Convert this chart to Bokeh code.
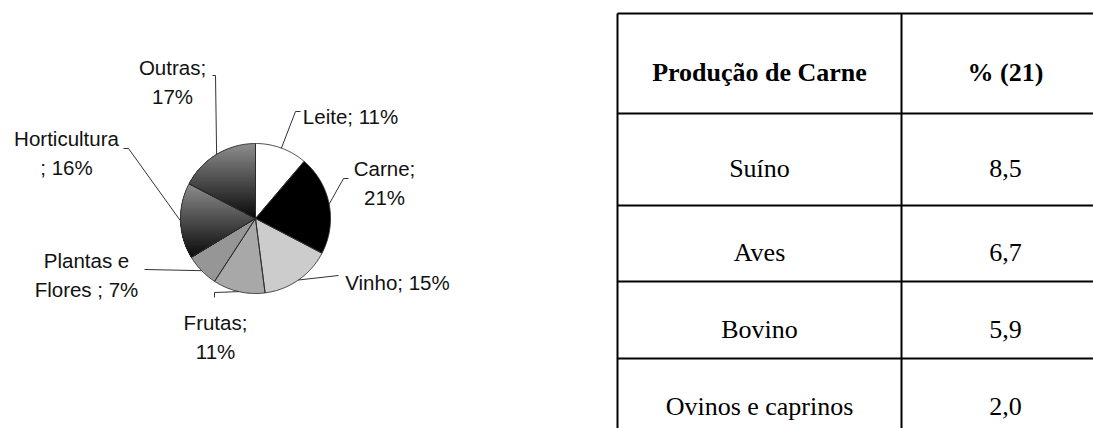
import numpy as np
from bokeh.plotting import figure
from bokeh.models import Range1d
from bokeh.core.properties import value
from bokeh.embed import file_html
from bokeh.resources import INLINE

# ---------------- data ----------------
sectors = ["Leite", "Carne", "Vinho", "Frutas", "Plantas e Flores", "Horticultura", "Outras"]
shares = [11, 21, 15, 11, 7, 16, 17]
# label text as printed on the chart (line breaks as in the original)
label_lines = [
    [f"Leite; {shares[0]}%"],
    ["Carne;", f"{shares[1]}%"],
    [f"Vinho; {shares[2]}%"],
    ["Frutas;", f"{shares[3]}%"],
    ["Plantas e", f"Flores ; {shares[4]}%"],
    ["Horticultura", f"; {shares[5]}%"],
    ["Outras;", f"{shares[6]}%"],
]
table_header = ["Produção de Carne", "% (21)"]
meat_types = ["Suíno", "Aves", "Bovino", "Ovinos e caprinos"]
meat_shares = ["8,5", "6,7", "5,9", "2,0"]

# ---------------- styles / layout ----------------
fills = ["#ffffff", "#000000", "#cccccc", "#a8a8a8", "#969696", None, None]  # None = gradient
grad_top, grad_bottom = np.array([0x8e, 0x8e, 0x8e]), np.array([0x0a, 0x0a, 0x0a])
cx, cy, R = 255.0, 218.0, 75.0
label_pos = [(350, 116), (384, 168), (397, 282), (215, 322), (86, 260), (66, 138), (172, 67)]
line_h = 28.5
leader_start = [
    [(300, 111), (295, 111)],
    [(348, 178), (343, 178)],
    [(338, 275)],
    [(214, 297), (214, 292)],
    [(144, 269)],
    [(123, 148), (128, 148)],
    [(212, 75), (215, 75)],
]
col_x = [617, 901, 1109]
row_y = [13, 113, 205, 281, 358, 436]

p = figure(width=1093, height=428, x_range=Range1d(0, 1093), y_range=Range1d(428, 0),
           output_backend="svg", toolbar_location=None, min_border=0,
           x_axis_type=None, y_axis_type=None)
p.grid.visible = False
p.outline_line_color = None
p.background_fill_color = "white"
p.border_fill_color = "white"

total = float(sum(shares))
cum = np.concatenate([[0.0], np.cumsum(shares)]) / total * 2 * np.pi


def pt(theta, r=R):
    return cx + r * np.sin(theta), cy - r * np.cos(theta)


def wedge_poly(a0, a1):
    n = max(3, int(np.degrees(a1 - a0) * 1.5))
    th = np.linspace(a0, a1, n)
    xs = [cx] + list(cx + R * np.sin(th))
    ys = [cy] + list(cy - R * np.cos(th))
    return list(zip(xs, ys))


def clip_half(pts, c, s):
    out = []
    n = len(pts)
    for i in range(n):
        P = pts[i]
        Q = pts[(i + 1) % n]
        pin = s * (P[1] - c) >= 0
        qin = s * (Q[1] - c) >= 0
        if pin:
            out.append(P)
        if pin != qin:
            t = (c - P[1]) / (Q[1] - P[1])
            out.append((P[0] + t * (Q[0] - P[0]), c))
    return out


solid_xs, solid_ys, solid_c = [], [], []
band_xs, band_ys, band_c = [], [], []
out_xs, out_ys = [], []
for i, f in enumerate(fills):
    poly = wedge_poly(cum[i], cum[i + 1])
    xs = [q[0] for q in poly]
    ys = [q[1] for q in poly]
    out_xs.append(xs)
    out_ys.append(ys)
    if f is not None:
        solid_xs.append(xs)
        solid_ys.append(ys)
        solid_c.append(f)
    else:
        ymin, ymax = min(ys), max(ys)
        N = 60
        h = (ymax - ymin) / N
        for k in range(N):
            # each band reaches to the bottom of the slice: later bands overlap earlier ones,
            # so there are no seams between bands
            y0 = ymin + k * h
            cp = clip_half(poly, y0, +1)
            if len(cp) < 3:
                continue
            t = (k + 0.5) / N
            col = (grad_top + (grad_bottom - grad_top) * t).astype(int)
            band_xs.append([q[0] for q in cp])
            band_ys.append([q[1] for q in cp])
            band_c.append("#%02x%02x%02x" % tuple(col))

p.patches(solid_xs, solid_ys, fill_color=solid_c, line_color=None)
p.patches(band_xs, band_ys, fill_color=band_c, line_color=None)
p.patches(out_xs, out_ys, fill_color=None, line_color="#2a2a2a", line_width=0.9)

# leader lines
lx, ly = [], []
for i in range(len(shares)):
    mid = 0.5 * (cum[i] + cum[i + 1])
    ex, ey = pt(mid)
    xs = [q[0] for q in leader_start[i]] + [ex]
    ys = [q[1] for q in leader_start[i]] + [ey]
    lx.append(xs)
    ly.append(ys)
p.multi_line(lx, ly, line_color="#333333", line_width=1)

# pie labels
tx, ty, tt = [], [], []
for i, lines in enumerate(label_lines):
    x0, y0 = label_pos[i]
    for j, s in enumerate(lines):
        tx.append(x0)
        ty.append(y0 + j * line_h)
        tt.append(s)
p.text(tx, ty, text=tt, text_font=value("Liberation Sans"), text_font_size="20.5px",
       text_align="center", text_baseline="alphabetic", text_color="#111111")

# table grid
p.segment(x0=[col_x[0]] * len(row_y), y0=row_y, x1=[col_x[-1]] * len(row_y), y1=row_y,
          line_color="black", line_width=2)
p.segment(x0=col_x, y0=[row_y[0]] * len(col_x), x1=col_x, y1=[row_y[-1]] * len(col_x),
          line_color="black", line_width=2)

ccx = [(col_x[0] + col_x[1]) / 2, (col_x[1] + col_x[2]) / 2]
rcy = [(row_y[k] + row_y[k + 1]) / 2 + 9 for k in range(len(row_y) - 1)]
p.text([ccx[0], ccx[1]], [rcy[0], rcy[0]], text=table_header,
       text_font=value("Liberation Serif"), text_font_size="26px", text_font_style="bold",
       text_align="center", text_baseline="alphabetic", text_color="black")
p.text([ccx[0]] * len(meat_types), rcy[1:], text=meat_types,
       text_font=value("Liberation Serif"), text_font_size="26px",
       text_align="center", text_baseline="alphabetic", text_color="black")
p.text([ccx[1]] * len(meat_shares), rcy[1:], text=meat_shares,
       text_font=value("Liberation Serif"), text_font_size="26px",
       text_align="center", text_baseline="alphabetic", text_color="black")

open("out.html", "w").write(file_html(p, INLINE))
